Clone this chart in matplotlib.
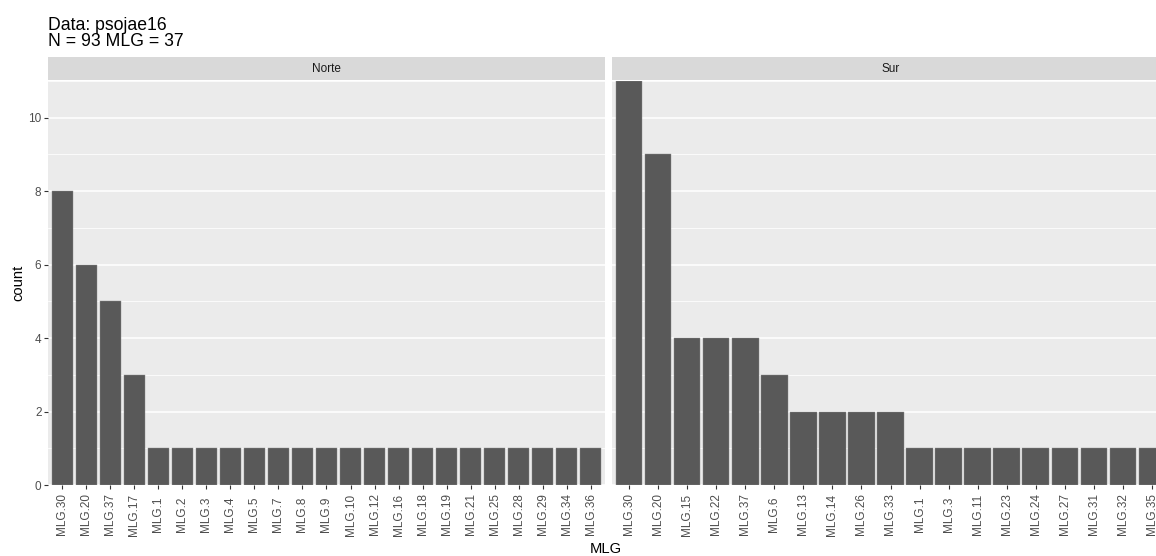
import numpy as np
import matplotlib.pyplot as plt

plt.rcParams['font.family'] = ['Liberation Sans', 'DejaVu Sans']

# data
norte_mlg = ['MLG.30', 'MLG.20', 'MLG.37', 'MLG.17', 'MLG.1', 'MLG.2', 'MLG.3', 'MLG.4',
             'MLG.5', 'MLG.7', 'MLG.8', 'MLG.9', 'MLG.10', 'MLG.12', 'MLG.16', 'MLG.18',
             'MLG.19', 'MLG.21', 'MLG.25', 'MLG.28', 'MLG.29', 'MLG.34', 'MLG.36']
norte_count = [8, 6, 5, 3, 1, 1, 1, 1, 1, 1, 1, 1, 1, 1, 1, 1, 1, 1, 1, 1, 1, 1, 1]

sur_mlg = ['MLG.30', 'MLG.20', 'MLG.15', 'MLG.22', 'MLG.37', 'MLG.6', 'MLG.13', 'MLG.14',
           'MLG.26', 'MLG.33', 'MLG.1', 'MLG.3', 'MLG.11', 'MLG.23', 'MLG.24', 'MLG.27',
           'MLG.31', 'MLG.32', 'MLG.35']
sur_count = [11, 9, 4, 4, 4, 3, 2, 2, 2, 2, 1, 1, 1, 1, 1, 1, 1, 1, 1]

panels = [('Norte', norte_mlg, norte_count), ('Sur', sur_mlg, sur_count)]

W, H = 1156, 556
fig = plt.figure(figsize=(W / 100, H / 100), dpi=100)

def fx(px):
    return px / W

def fy(py):
    return 1 - py / H

panel_left = [48, 612]
panel_w = 557
top, bottom = 81, 485
strip_top = 57

for i, (name, cats, vals) in enumerate(panels):
    ax = fig.add_axes([fx(panel_left[i]), fy(bottom), fx(panel_w), (bottom - top) / H])
    ax.set_facecolor('#EBEBEB')
    x = np.arange(len(cats))
    ax.bar(x, vals, width=0.9, color='#595959', edgecolor='#8C8C8C', linewidth=0.3, zorder=3)
    ax.set_xlim(-0.6, len(cats) - 0.4)
    ax.set_ylim(0, 11)
    ax.set_yticks(range(0, 11, 2))
    ax.set_yticks(range(1, 12, 2), minor=True)
    ax.grid(axis='y', which='major', color='white', linewidth=1.1, zorder=0)
    ax.grid(axis='y', which='minor', color='white', linewidth=0.55, zorder=0)
    ax.set_axisbelow(True)
    for s in ax.spines.values():
        s.set_visible(False)
    ax.set_xticks(x)
    ax.set_xticklabels(cats, rotation=90, va='center', ha='center', color='#4D4D4D', fontsize=8.45)
    ax.tick_params(axis='x', length=2.7, color='#333333', pad=18.5)
    ax.tick_params(axis='y', which='minor', length=0)
    if i == 0:
        ax.tick_params(axis='y', length=2.7, color='#333333', labelcolor='#4D4D4D',
                       labelsize=8.45, pad=2)
    else:
        ax.tick_params(axis='y', length=0, labelleft=False)

    # facet strip
    sax = fig.add_axes([fx(panel_left[i]), fy(top - 1), fx(panel_w), (top - 1 - strip_top) / H])
    sax.set_facecolor('#D9D9D9')
    sax.set_xticks([])
    sax.set_yticks([])
    for s in sax.spines.values():
        s.set_visible(False)
    sax.text(0.5, 0.5, name, transform=sax.transAxes, ha='center', va='center',
             fontsize=8.45, color='#1A1A1A')

fig.text(fx(48), fy(16.5), 'Data: psojae16\nN = 93 MLG = 37', ha='left', va='top',
         fontsize=12.7, color='black', linespacing=0.97)
fig.text(fx(606), fy(549), 'MLG', ha='center', va='center', fontsize=10.6)
fig.text(fx(18), fy(283), 'count', ha='center', va='center', rotation=90, fontsize=10.6)

fig.savefig('out.png', dpi=100)
